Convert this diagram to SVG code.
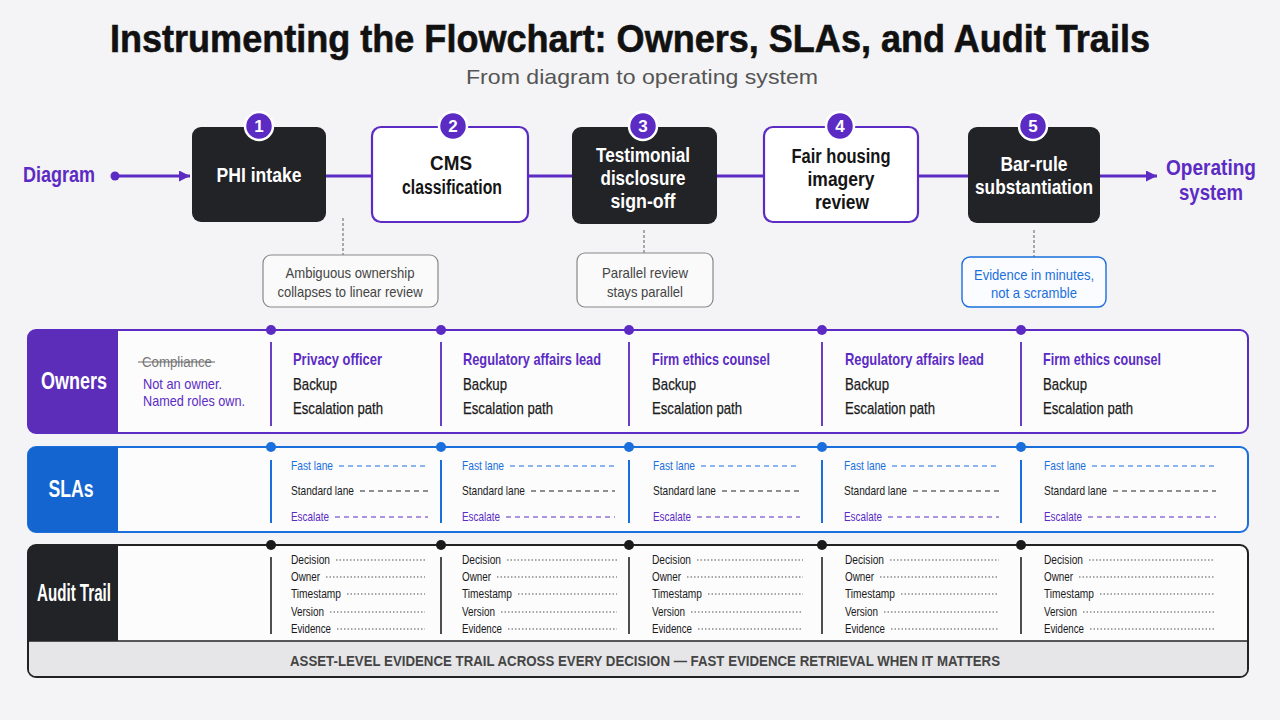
<svg xmlns="http://www.w3.org/2000/svg" width="1280" height="720" viewBox="0 0 1280 720">
<style>
text{font-family:"Liberation Sans Narrow","Liberation Sans",Arial,sans-serif}
.title{font-size:39px;font-weight:700;fill:#111;stroke:#111;stroke-width:0.6}
.sub{font-size:21px;fill:#555}
.end{font-size:22px;font-weight:700;fill:#5b2bc4}
.nodeDark{fill:#222326}
.nodeLight{fill:#ffffff;stroke:#5b2bc4;stroke-width:2.2}
.nt{font-size:20px;font-weight:700;text-anchor:middle}
.w{fill:#fff}.k{fill:#151515}
.badge{fill:#5b2bc4;stroke:#fff;stroke-width:2.5}
.bt{font-size:17px;font-weight:700;fill:#fff;text-anchor:middle}
.flow{stroke:#5b2bc4;stroke-width:3;fill:none}
.lead{stroke:#777;stroke-width:1.2;stroke-dasharray:3 2;fill:none}
.callout{fill:#fafafa;stroke:#888;stroke-width:1.2}
.calloutB{fill:#fafcff;stroke:#1a6fdc;stroke-width:1.4}
.ct{font-size:15px;fill:#444;text-anchor:middle}
.ctB{font-size:15px;fill:#1a6fdc;text-anchor:middle}
.lane{fill:#fcfcfd}
.lab{font-size:23px;font-weight:700;fill:#fff;text-anchor:middle}
.own{font-size:17px;font-weight:700;fill:#5b2bc4}
.blk{font-size:17px;fill:#1a1a1a;stroke:#1a1a1a;stroke-width:0.25}
.note{font-size:15px;fill:#5b2bc4}
.strike{font-size:14px;fill:#777}
.sf{font-size:13px;fill:#1a6fdc}.ss{font-size:13px;fill:#1a1a1a}.se{font-size:13px;fill:#5b2bc4}
.df{stroke:#1a6fdc;stroke-width:1.2;stroke-dasharray:5 4}
.ds{stroke:#222;stroke-width:1.2;stroke-dasharray:5 4}
.de{stroke:#5b2bc4;stroke-width:1.2;stroke-dasharray:5 4}
.at{font-size:12.5px;fill:#1a1a1a}
.dot{stroke:#555;stroke-width:1;stroke-dasharray:1.5 2}
.foot{font-size:14.5px;font-weight:700;fill:#444}
</style>
<defs>
<marker id="arr" viewBox="0 0 10 10" refX="10" refY="5" markerWidth="11" markerHeight="11" markerUnits="userSpaceOnUse" orient="auto"><path d="M0,0 L10,5 L0,10 z" fill="#5b2bc4"/></marker>
</defs>
<rect width="1280" height="720" fill="#f4f4f6"/>

<g id="title">
<text class="title" x="630" y="52" text-anchor="middle" textLength="1040" lengthAdjust="spacingAndGlyphs">Instrumenting the Flowchart: Owners, SLAs, and Audit Trails</text>
<text class="sub" x="642" y="84" text-anchor="middle" textLength="352" lengthAdjust="spacingAndGlyphs">From diagram to operating system</text>
</g>

<g id="connectors">
<circle cx="115" cy="176" r="4.5" fill="#5b2bc4"/>
<line class="flow" x1="115" y1="176" x2="190" y2="176" marker-end="url(#arr)"/>
<line class="flow" x1="326" y1="176" x2="372" y2="176"/>
<line class="flow" x1="528" y1="176" x2="572" y2="176"/>
<line class="flow" x1="717" y1="176" x2="764" y2="176"/>
<line class="flow" x1="918" y1="176" x2="968" y2="176"/>
<line class="flow" x1="1100" y1="176" x2="1157" y2="176" marker-end="url(#arr)"/>
<line class="lead" x1="343" y1="218" x2="343" y2="255"/>
<line class="lead" x1="644" y1="230" x2="644" y2="253"/>
<line class="lead" x1="1034" y1="230" x2="1034" y2="257"/>
</g>

<g id="node-start">
<text class="end" x="59" y="182" text-anchor="middle" textLength="72" lengthAdjust="spacingAndGlyphs">Diagram</text>
</g>
<g id="node-end">
<text class="end" x="1211" y="175" text-anchor="middle" textLength="90" lengthAdjust="spacingAndGlyphs">Operating</text>
<text class="end" x="1211" y="200" text-anchor="middle" textLength="64" lengthAdjust="spacingAndGlyphs">system</text>
</g>

<g id="node-1">
<rect class="nodeDark" x="192" y="127" width="134" height="95" rx="9"/>
<text class="nt w" x="259" y="182" textLength="85" lengthAdjust="spacingAndGlyphs">PHI intake</text>
<circle class="badge" cx="259" cy="126" r="14"/>
<text class="bt" x="259" y="132">1</text>
</g>
<g id="node-2">
<rect class="nodeLight" x="372" y="127" width="156" height="95" rx="9"/>
<text class="nt k" x="451" y="170" textLength="42" lengthAdjust="spacingAndGlyphs">CMS</text>
<text class="nt k" x="452" y="194" textLength="100" lengthAdjust="spacingAndGlyphs">classification</text>
<circle class="badge" cx="453" cy="126" r="14"/>
<text class="bt" x="453" y="132">2</text>
</g>
<g id="node-3">
<rect class="nodeDark" x="572" y="127" width="145" height="97" rx="9"/>
<text class="nt w" x="643" y="162" textLength="94" lengthAdjust="spacingAndGlyphs">Testimonial</text>
<text class="nt w" x="643" y="185" textLength="85" lengthAdjust="spacingAndGlyphs">disclosure</text>
<text class="nt w" x="643" y="208" textLength="65" lengthAdjust="spacingAndGlyphs">sign-off</text>
<circle class="badge" cx="643" cy="126" r="14"/>
<text class="bt" x="643" y="132">3</text>
</g>
<g id="node-4">
<rect class="nodeLight" x="764" y="127" width="154" height="95" rx="9"/>
<text class="nt k" x="841" y="163" textLength="99" lengthAdjust="spacingAndGlyphs">Fair housing</text>
<text class="nt k" x="841" y="186" textLength="67" lengthAdjust="spacingAndGlyphs">imagery</text>
<text class="nt k" x="842" y="209" textLength="54" lengthAdjust="spacingAndGlyphs">review</text>
<circle class="badge" cx="840" cy="126" r="14"/>
<text class="bt" x="840" y="132">4</text>
</g>
<g id="node-5">
<rect class="nodeDark" x="968" y="127" width="132" height="96" rx="9"/>
<text class="nt w" x="1034" y="171" textLength="67" lengthAdjust="spacingAndGlyphs">Bar-rule</text>
<text class="nt w" x="1034" y="194" textLength="118" lengthAdjust="spacingAndGlyphs">substantiation</text>
<circle class="badge" cx="1033" cy="126" r="14"/>
<text class="bt" x="1033" y="132">5</text>
</g>

<g id="callout-1">
<rect class="callout" x="263" y="255" width="175" height="52" rx="8"/>
<text class="ct" x="350" y="278" textLength="129" lengthAdjust="spacingAndGlyphs">Ambiguous ownership</text>
<text class="ct" x="350" y="297" textLength="145" lengthAdjust="spacingAndGlyphs">collapses to linear review</text>
</g>
<g id="callout-2">
<rect class="callout" x="577" y="253" width="136" height="54" rx="8"/>
<text class="ct" x="645" y="278" textLength="86" lengthAdjust="spacingAndGlyphs">Parallel review</text>
<text class="ct" x="645" y="297" textLength="76" lengthAdjust="spacingAndGlyphs">stays parallel</text>
</g>
<g id="callout-3">
<rect class="calloutB" x="962" y="257" width="144" height="50" rx="8"/>
<text class="ctB" x="1034" y="280" textLength="120" lengthAdjust="spacingAndGlyphs">Evidence in minutes,</text>
<text class="ctB" x="1034" y="298" textLength="86" lengthAdjust="spacingAndGlyphs">not a scramble</text>
</g>

<g id="lane-owners">
<rect class="lane" x="28" y="330" width="1220" height="103" rx="8" stroke="#5b2bc4" stroke-width="2"/>
<path d="M36,330 H118 V433 H36 A8,8 0 0 1 28,425 V338 A8,8 0 0 1 36,330 Z" fill="#5b2db8"/>
<text class="lab" x="74" y="389" textLength="66" lengthAdjust="spacingAndGlyphs">Owners</text>
<text class="strike" x="142" y="367" textLength="70" lengthAdjust="spacingAndGlyphs">Compliance</text>
<line x1="138" y1="362" x2="215" y2="362" stroke="#666" stroke-width="1.2"/>
<text class="note" x="143" y="389" textLength="79" lengthAdjust="spacingAndGlyphs">Not an owner.</text>
<text class="note" x="143" y="406" textLength="102" lengthAdjust="spacingAndGlyphs">Named roles own.</text>
<g stroke="#6a3fc8" stroke-width="2">
<line x1="271" y1="342" x2="271" y2="426"/><line x1="441" y1="342" x2="441" y2="426"/><line x1="629" y1="342" x2="629" y2="426"/><line x1="822" y1="342" x2="822" y2="426"/><line x1="1021" y1="342" x2="1021" y2="426"/>
</g>
<g fill="#5b2bc4">
<circle cx="271" cy="330" r="5"/><circle cx="441" cy="330" r="5"/><circle cx="629" cy="330" r="5"/><circle cx="822" cy="330" r="5"/><circle cx="1021" cy="330" r="5"/>
</g>
<text class="own" x="293" y="365" textLength="89" lengthAdjust="spacingAndGlyphs">Privacy officer</text>
<text class="blk" x="293" y="390" textLength="44" lengthAdjust="spacingAndGlyphs">Backup</text>
<text class="blk" x="293" y="414" textLength="90" lengthAdjust="spacingAndGlyphs">Escalation path</text>
<text class="own" x="463" y="365" textLength="138" lengthAdjust="spacingAndGlyphs">Regulatory affairs lead</text>
<text class="blk" x="463" y="390" textLength="44" lengthAdjust="spacingAndGlyphs">Backup</text>
<text class="blk" x="463" y="414" textLength="90" lengthAdjust="spacingAndGlyphs">Escalation path</text>
<text class="own" x="652" y="365" textLength="118" lengthAdjust="spacingAndGlyphs">Firm ethics counsel</text>
<text class="blk" x="652" y="390" textLength="44" lengthAdjust="spacingAndGlyphs">Backup</text>
<text class="blk" x="652" y="414" textLength="90" lengthAdjust="spacingAndGlyphs">Escalation path</text>
<text class="own" x="845" y="365" textLength="139" lengthAdjust="spacingAndGlyphs">Regulatory affairs lead</text>
<text class="blk" x="845" y="390" textLength="44" lengthAdjust="spacingAndGlyphs">Backup</text>
<text class="blk" x="845" y="414" textLength="90" lengthAdjust="spacingAndGlyphs">Escalation path</text>
<text class="own" x="1043" y="365" textLength="118" lengthAdjust="spacingAndGlyphs">Firm ethics counsel</text>
<text class="blk" x="1043" y="390" textLength="44" lengthAdjust="spacingAndGlyphs">Backup</text>
<text class="blk" x="1043" y="414" textLength="90" lengthAdjust="spacingAndGlyphs">Escalation path</text>
</g>

<g id="lane-slas">
<rect class="lane" x="28" y="447" width="1220" height="85" rx="8" stroke="#1a6fdc" stroke-width="2"/>
<path d="M36,447 H118 V532 H36 A8,8 0 0 1 28,524 V455 A8,8 0 0 1 36,447 Z" fill="#1565d0"/>
<text class="lab" x="71" y="497" textLength="45" lengthAdjust="spacingAndGlyphs">SLAs</text>
<g stroke="#1a6fdc" stroke-width="2">
<line x1="271" y1="460" x2="271" y2="523"/><line x1="441" y1="460" x2="441" y2="523"/><line x1="629" y1="460" x2="629" y2="523"/><line x1="822" y1="460" x2="822" y2="523"/><line x1="1021" y1="460" x2="1021" y2="523"/>
</g>
<g fill="#1a6fdc">
<circle cx="271" cy="447" r="5"/><circle cx="441" cy="447" r="5"/><circle cx="629" cy="447" r="5"/><circle cx="822" cy="447" r="5"/><circle cx="1021" cy="447" r="5"/>
</g>
<text class="sf" x="291" y="470" textLength="42" lengthAdjust="spacingAndGlyphs">Fast lane</text>
<text class="ss" x="291" y="495" textLength="63" lengthAdjust="spacingAndGlyphs">Standard lane</text>
<text class="se" x="291" y="521" textLength="38" lengthAdjust="spacingAndGlyphs">Escalate</text>
<line class="df" x1="339" y1="466" x2="428" y2="466"/><line class="ds" x1="360" y1="491" x2="428" y2="491"/><line class="de" x1="335" y1="517" x2="428" y2="517"/>
<text class="sf" x="462" y="470" textLength="42" lengthAdjust="spacingAndGlyphs">Fast lane</text>
<text class="ss" x="462" y="495" textLength="63" lengthAdjust="spacingAndGlyphs">Standard lane</text>
<text class="se" x="462" y="521" textLength="38" lengthAdjust="spacingAndGlyphs">Escalate</text>
<line class="df" x1="510" y1="466" x2="615" y2="466"/><line class="ds" x1="531" y1="491" x2="615" y2="491"/><line class="de" x1="506" y1="517" x2="615" y2="517"/>
<text class="sf" x="653" y="470" textLength="42" lengthAdjust="spacingAndGlyphs">Fast lane</text>
<text class="ss" x="653" y="495" textLength="63" lengthAdjust="spacingAndGlyphs">Standard lane</text>
<text class="se" x="653" y="521" textLength="38" lengthAdjust="spacingAndGlyphs">Escalate</text>
<line class="df" x1="701" y1="466" x2="800" y2="466"/><line class="ds" x1="722" y1="491" x2="800" y2="491"/><line class="de" x1="697" y1="517" x2="800" y2="517"/>
<text class="sf" x="844" y="470" textLength="42" lengthAdjust="spacingAndGlyphs">Fast lane</text>
<text class="ss" x="844" y="495" textLength="63" lengthAdjust="spacingAndGlyphs">Standard lane</text>
<text class="se" x="844" y="521" textLength="38" lengthAdjust="spacingAndGlyphs">Escalate</text>
<line class="df" x1="892" y1="466" x2="999" y2="466"/><line class="ds" x1="913" y1="491" x2="999" y2="491"/><line class="de" x1="888" y1="517" x2="999" y2="517"/>
<text class="sf" x="1044" y="470" textLength="42" lengthAdjust="spacingAndGlyphs">Fast lane</text>
<text class="ss" x="1044" y="495" textLength="63" lengthAdjust="spacingAndGlyphs">Standard lane</text>
<text class="se" x="1044" y="521" textLength="38" lengthAdjust="spacingAndGlyphs">Escalate</text>
<line class="df" x1="1092" y1="466" x2="1216" y2="466"/><line class="ds" x1="1113" y1="491" x2="1216" y2="491"/><line class="de" x1="1088" y1="517" x2="1216" y2="517"/>
</g>

<g id="lane-audit">
<rect class="lane" x="28" y="545" width="1220" height="132" rx="8" stroke="#222" stroke-width="2"/>
<path d="M29,641 H1247 V669 A7,7 0 0 1 1240,676 H36 A7,7 0 0 1 29,669 Z" fill="#e6e6e8"/>
<line x1="28" y1="641" x2="1248" y2="641" stroke="#222" stroke-width="1.6"/>
<path d="M36,545 H118 V641 H28 V553 A8,8 0 0 1 36,545 Z" fill="#222326"/>
<text class="lab" x="74" y="601" font-size="22" textLength="74" lengthAdjust="spacingAndGlyphs">Audit Trail</text>
<g stroke="#222" stroke-width="1.6">
<line x1="271" y1="557" x2="271" y2="634"/><line x1="441" y1="557" x2="441" y2="634"/><line x1="629" y1="557" x2="629" y2="634"/><line x1="822" y1="557" x2="822" y2="634"/><line x1="1021" y1="557" x2="1021" y2="634"/>
</g>
<g fill="#1a1a1a">
<circle cx="271" cy="545" r="5"/><circle cx="441" cy="545" r="5"/><circle cx="629" cy="545" r="5"/><circle cx="822" cy="545" r="5"/><circle cx="1021" cy="545" r="5"/>
</g>
<text class="at" x="291" y="564" textLength="39" lengthAdjust="spacingAndGlyphs">Decision</text>
<text class="at" x="291" y="581" textLength="29" lengthAdjust="spacingAndGlyphs">Owner</text>
<text class="at" x="291" y="598" textLength="50" lengthAdjust="spacingAndGlyphs">Timestamp</text>
<text class="at" x="291" y="616" textLength="33" lengthAdjust="spacingAndGlyphs">Version</text>
<text class="at" x="291" y="633" textLength="40" lengthAdjust="spacingAndGlyphs">Evidence</text>
<line class="dot" x1="336" y1="560" x2="425" y2="560"/><line class="dot" x1="326" y1="577" x2="425" y2="577"/><line class="dot" x1="347" y1="594" x2="425" y2="594"/><line class="dot" x1="330" y1="612" x2="425" y2="612"/><line class="dot" x1="337" y1="629" x2="425" y2="629"/>
<text class="at" x="462" y="564" textLength="39" lengthAdjust="spacingAndGlyphs">Decision</text>
<text class="at" x="462" y="581" textLength="29" lengthAdjust="spacingAndGlyphs">Owner</text>
<text class="at" x="462" y="598" textLength="50" lengthAdjust="spacingAndGlyphs">Timestamp</text>
<text class="at" x="462" y="616" textLength="33" lengthAdjust="spacingAndGlyphs">Version</text>
<text class="at" x="462" y="633" textLength="40" lengthAdjust="spacingAndGlyphs">Evidence</text>
<line class="dot" x1="507" y1="560" x2="617" y2="560"/><line class="dot" x1="497" y1="577" x2="617" y2="577"/><line class="dot" x1="518" y1="594" x2="617" y2="594"/><line class="dot" x1="501" y1="612" x2="617" y2="612"/><line class="dot" x1="508" y1="629" x2="617" y2="629"/>
<text class="at" x="652" y="564" textLength="39" lengthAdjust="spacingAndGlyphs">Decision</text>
<text class="at" x="652" y="581" textLength="29" lengthAdjust="spacingAndGlyphs">Owner</text>
<text class="at" x="652" y="598" textLength="50" lengthAdjust="spacingAndGlyphs">Timestamp</text>
<text class="at" x="652" y="616" textLength="33" lengthAdjust="spacingAndGlyphs">Version</text>
<text class="at" x="652" y="633" textLength="40" lengthAdjust="spacingAndGlyphs">Evidence</text>
<line class="dot" x1="697" y1="560" x2="803" y2="560"/><line class="dot" x1="687" y1="577" x2="803" y2="577"/><line class="dot" x1="708" y1="594" x2="803" y2="594"/><line class="dot" x1="691" y1="612" x2="803" y2="612"/><line class="dot" x1="698" y1="629" x2="803" y2="629"/>
<text class="at" x="845" y="564" textLength="39" lengthAdjust="spacingAndGlyphs">Decision</text>
<text class="at" x="845" y="581" textLength="29" lengthAdjust="spacingAndGlyphs">Owner</text>
<text class="at" x="845" y="598" textLength="50" lengthAdjust="spacingAndGlyphs">Timestamp</text>
<text class="at" x="845" y="616" textLength="33" lengthAdjust="spacingAndGlyphs">Version</text>
<text class="at" x="845" y="633" textLength="40" lengthAdjust="spacingAndGlyphs">Evidence</text>
<line class="dot" x1="890" y1="560" x2="999" y2="560"/><line class="dot" x1="880" y1="577" x2="999" y2="577"/><line class="dot" x1="901" y1="594" x2="999" y2="594"/><line class="dot" x1="884" y1="612" x2="999" y2="612"/><line class="dot" x1="891" y1="629" x2="999" y2="629"/>
<text class="at" x="1044" y="564" textLength="39" lengthAdjust="spacingAndGlyphs">Decision</text>
<text class="at" x="1044" y="581" textLength="29" lengthAdjust="spacingAndGlyphs">Owner</text>
<text class="at" x="1044" y="598" textLength="50" lengthAdjust="spacingAndGlyphs">Timestamp</text>
<text class="at" x="1044" y="616" textLength="33" lengthAdjust="spacingAndGlyphs">Version</text>
<text class="at" x="1044" y="633" textLength="40" lengthAdjust="spacingAndGlyphs">Evidence</text>
<line class="dot" x1="1089" y1="560" x2="1215" y2="560"/><line class="dot" x1="1079" y1="577" x2="1215" y2="577"/><line class="dot" x1="1100" y1="594" x2="1215" y2="594"/><line class="dot" x1="1083" y1="612" x2="1215" y2="612"/><line class="dot" x1="1090" y1="629" x2="1215" y2="629"/>
<text class="foot" x="645" y="666" text-anchor="middle" textLength="710" lengthAdjust="spacingAndGlyphs">ASSET-LEVEL EVIDENCE TRAIL ACROSS EVERY DECISION — FAST EVIDENCE RETRIEVAL WHEN IT MATTERS</text>
</g>
</svg>
